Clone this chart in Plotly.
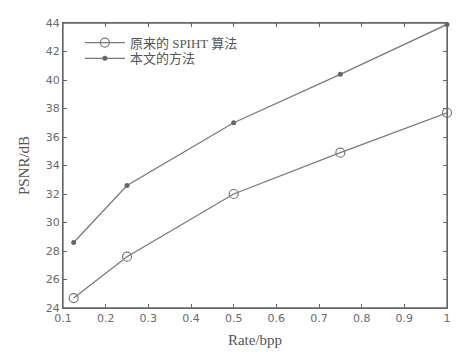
import plotly.graph_objects as go

rate = [0.125, 0.25, 0.5, 0.75, 1.0]
spiht = [24.7, 27.6, 32.0, 34.9, 37.7]
proposed = [28.6, 32.6, 37.0, 40.4, 43.9]
names = ["原来的 SPIHT 算法", "本文的方法"]
x_ticks = [0.1, 0.2, 0.3, 0.4, 0.5, 0.6, 0.7, 0.8, 0.9, 1]
x_ticktext = ["0.1", "0.2", "0.3", "0.4", "0.5", "0.6", "0.7", "0.8", "0.9", "1"]
y_ticks = list(range(24, 45, 2))

line_col = "#7a7a7a"
axis_col = "#666666"
text_col = "#6a6a6a"
leg_font = dict(family="Liberation Serif, Noto Sans CJK SC", size=13, color="#555555")

fig = go.Figure()
fig.add_trace(go.Scatter(
    x=rate, y=spiht, name=names[0], mode="lines+markers",
    line=dict(color=line_col, width=1.3),
    marker=dict(symbol="circle-open", size=9, color=line_col, line=dict(width=1.2)),
    cliponaxis=False, legend="legend",
))
fig.add_trace(go.Scatter(
    x=rate, y=proposed, name=names[1], mode="lines+markers",
    line=dict(color=line_col, width=1.3),
    marker=dict(symbol="circle", size=5, color="#666666"),
    cliponaxis=False, legend="legend2",
))

fig.add_shape(type="rect", xref="paper", yref="paper", x0=0, y0=0, x1=1, y1=1,
              line=dict(color=axis_col, width=1.3), layer="above")

fig.update_layout(
    width=452, height=349,
    margin=dict(l=55, r=10, t=9, b=49),
    paper_bgcolor="white", plot_bgcolor="white",
    showlegend=True,
    legend=dict(
        x=0.044, y=0.931, xanchor="left", yanchor="middle",
        bgcolor="rgba(0,0,0,0)", font=leg_font, itemwidth=40,
    ),
    legend2=dict(
        x=0.044, y=0.876, xanchor="left", yanchor="middle",
        bgcolor="rgba(0,0,0,0)", font=leg_font, itemwidth=40,
    ),
    xaxis=dict(
        range=[0.1, 1.0], tickvals=x_ticks, ticktext=x_ticktext,
        ticks="inside", ticklen=4, tickcolor=axis_col,
        showline=True, linecolor=axis_col, linewidth=1.2, mirror="allticks",
        showgrid=False, zeroline=False,
        tickfont=dict(family="DejaVu Sans", size=11, color=text_col),
        title=dict(text="Rate/bpp", font=dict(family="Liberation Serif", size=15, color="#555555"), standoff=10),
    ),
    yaxis=dict(
        range=[24, 44], tickvals=y_ticks,
        ticks="inside", ticklen=4, tickcolor=axis_col,
        showline=True, linecolor=axis_col, linewidth=1.2, mirror="allticks",
        showgrid=False, zeroline=False,
        tickfont=dict(family="DejaVu Sans", size=11, color=text_col),
        title=dict(text="PSNR/dB", font=dict(family="Liberation Serif", size=15, color="#555555"), standoff=12),
    ),
)

fig.write_html("out.html")
